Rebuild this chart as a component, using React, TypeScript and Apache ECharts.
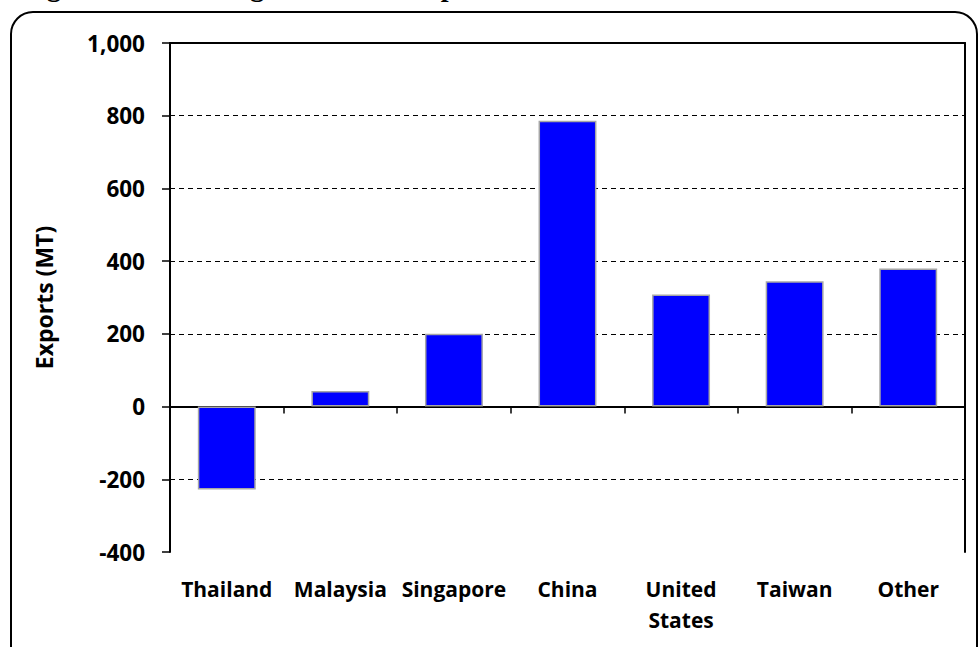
import React, { useEffect, useRef } from "react";
import * as echarts from "echarts";

// Export destinations and volumes (metric tons)
const categories = ["Thailand", "Malaysia", "Singapore", "China", "United\nStates", "Taiwan", "Other"];
const exportsMT = [-228, 43, 200, 786, 308, 345, 380];

// Value axis range
const yMin = -400;
const yMax = 1000;
const yStep = 200;

const titleText = "Figure 4. Net Change in Annual Exports";
const axisFont = "'Open Sans', 'Noto Sans', sans-serif";

export default function App() {
  const ref = useRef<HTMLDivElement>(null);

  useEffect(() => {
    document.body.style.margin = "0";
    const chart = echarts.init(ref.current!, null, { renderer: "svg" });
    const axisLineStyle = { color: "#000", width: 2 };
    const labelStyle = {
      fontFamily: axisFont,
      fontWeight: "bold" as const,
      fontSize: 21,
      color: "#000",
    };

    chart.setOption({
      animation: false,
      backgroundColor: "#fff",
      graphic: [
        {
          type: "text",
          left: 22,
          top: -28,
          style: {
            text: titleText,
            font: "bold 28px 'Liberation Serif', 'DejaVu Serif', serif",
            fill: "#000",
          },
        },
        {
          type: "rect",
          shape: { x: 11, y: 12, width: 966, height: 660, r: 22 },
          style: { fill: "none", stroke: "#000", lineWidth: 2 },
          silent: true,
        },
      ],
      grid: {
        left: 170,
        top: 43,
        right: 14,
        bottom: 95,
        containLabel: false,
        outerBoundsMode: "none",
      },
      xAxis: [
        {
          type: "category",
          data: categories,
          axisLine: { show: true, onZero: true, lineStyle: axisLineStyle },
          axisTick: {
            show: true,
            alignWithLabel: false,
            length: 7,
            lineStyle: { color: "#000", width: 1.5 },
          },
          axisLabel: { ...labelStyle, margin: 21, lineHeight: 31, interval: 0 },
          splitLine: { show: false },
        },
        {
          type: "category",
          position: "top",
          data: categories,
          axisLine: { show: true, onZero: false, lineStyle: axisLineStyle },
          axisTick: { show: false },
          axisLabel: { show: false },
          splitLine: { show: false },
        },
      ],
      yAxis: [
        {
          type: "value",
          min: yMin,
          max: yMax,
          interval: yStep,
          name: "Exports (MT)",
          nameLocation: "middle",
          nameGap: 115,
          nameTextStyle: { ...labelStyle, fontSize: 23 },
          axisLine: { show: true, onZero: false, lineStyle: axisLineStyle },
          axisTick: { show: true, length: 8, lineStyle: { color: "#000", width: 1.5 } },
          axisLabel: {
            ...labelStyle,
            fontSize: 22.5,
            margin: 25,
            formatter: (v: number) => v.toLocaleString("en-US"),
          },
          splitLine: {
            show: true,
            showMinLine: false,
            showMaxLine: false,
            lineStyle: { color: "#000", width: 1, type: [5, 4] },
          },
        },
        {
          type: "value",
          position: "right",
          min: yMin,
          max: yMax,
          interval: yStep,
          axisLine: { show: true, onZero: false, lineStyle: axisLineStyle },
          axisTick: { show: false },
          axisLabel: { show: false },
          splitLine: { show: false },
        },
      ],
      series: [
        {
          type: "bar",
          xAxisIndex: 0,
          yAxisIndex: 0,
          data: exportsMT,
          barWidth: "51%",
          itemStyle: { color: "#0000ff", borderColor: "#a6a6a6", borderWidth: 1.5 },
        },
      ],
    });

    return () => chart.dispose();
  }, []);

  return (
    <div
      ref={ref}
      style={{ position: "absolute", left: 0, top: 0, width: 979, height: 647 }}
    />
  );
}
